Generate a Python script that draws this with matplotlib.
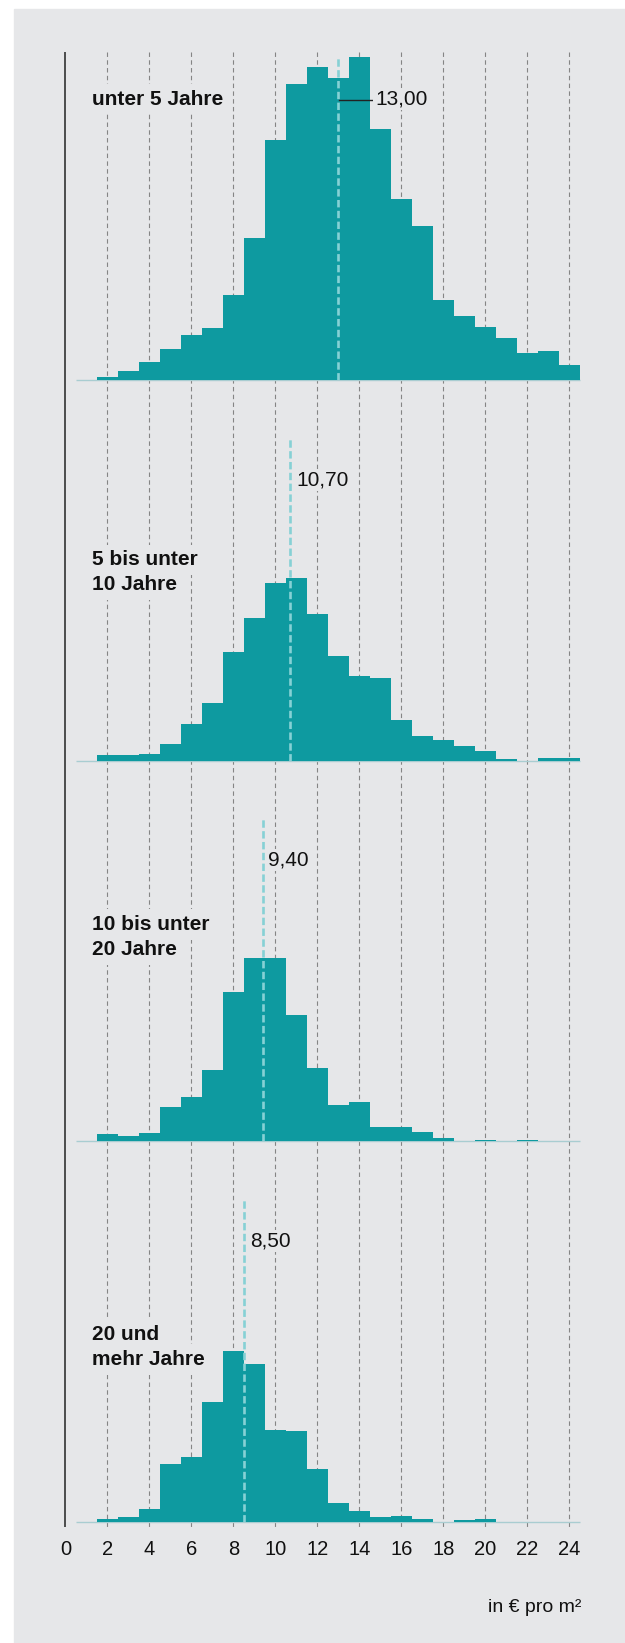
import matplotlib
matplotlib.use("Agg")
import matplotlib.pyplot as plt
import numpy as np
from matplotlib.patches import Rectangle

plt.rcParams['font.family'] = ['Liberation Sans', 'DejaVu Sans']

# ---------------- data ----------------
bin_centers = list(range(1, 25))
groups = ["unter 5 Jahre", "5 bis unter\n10 Jahre", "10 bis unter\n20 Jahre", "20 und\nmehr Jahre"]
counts_u5 = [0, 3, 9, 18, 31, 45, 52, 85, 142, 240, 296, 313, 302, 323, 251, 181, 154, 80, 64, 53, 42, 27, 29, 15]
counts_5_10 = [0, 5.7, 5.7, 6.7, 16.7, 36.7, 57.7, 108.7, 142.7, 178, 182.7, 146.7, 104.7, 84.7, 82.7, 40.7, 24.7, 20.7, 14.7, 9.7, 1.7, 0, 2.7, 2.7]
counts_10_20 = [0, 7, 5, 8, 34, 44, 71, 149, 183, 183, 126, 73, 36, 39, 14, 14, 9, 3, 0, 1, 0, 1, 0, 0]
counts_20p = [0, 2.7, 4.7, 12.7, 57.7, 64.7, 119.7, 170.7, 157.7, 91.7, 90.7, 52.7, 18.7, 10.7, 4.7, 5.7, 2.7, 0, 1.7, 2.7, 0, 0, 0, 0]
series = [counts_u5, counts_5_10, counts_10_20, counts_20p]
medians = [13.0, 10.7, 9.4, 8.5]
x_ticks = list(range(0, 25, 2))
x_label = "in € pro m²"

# ---------------- style / layout ----------------
W, H = 625, 1643
BG = "#e6e7e9"
TEAL = "#0e9aa0"
MED = "#86d1d5"
BASE = "#a9cdd1"
GRID = "#858585"
TXT = "#111111"
X0_PX = 65.4
PX = 21.0
baselines = [380.0, 760.6, 1141.1, 1521.7]
PANEL_H = 380.5
XMAX = 24.5

fig = plt.figure(figsize=(W / 100, H / 100), dpi=100, facecolor="white")
fig.patches.append(Rectangle((14 / W, 0), 1 - 14 / W, 1 - 9 / H,
                             transform=fig.transFigure, color=BG, zorder=-10))

# background axes for grid & axis line (pixel coordinates vertically)
bg = fig.add_axes([0, 0, 1, 1])
bg.set_xlim(-X0_PX / PX, (W - X0_PX) / PX)
bg.set_ylim(H, 0)
bg.set_axis_off()
bg.patch.set_visible(False)
bg.vlines(x_ticks[1:], 52, 1527, colors=GRID, lw=0.8, linestyles=(0, (4, 3)))
bg.vlines(0, 52, 1527, colors="#222222", lw=1.1)

edges = np.arange(0.5, len(bin_centers) + 1, 1.0)
label_centers = [280.7, 188.2, 204.0, 174.7]
med_label_dx = [1.74, 0.28, 0.25, 0.29]
med_leader = [True, False, False, False]

for i, (vals, b) in enumerate(zip(series, baselines)):
    ax = fig.add_axes([X0_PX / W, 1 - b / H, XMAX * PX / W, PANEL_H / H])
    ax.set_xlim(0, XMAX)
    ax.set_ylim(0, PANEL_H)
    ax.patch.set_visible(False)
    for s in ax.spines.values():
        s.set_visible(False)
    ax.set_yticks([])
    ax.hlines(0, edges[0], edges[-1], colors=BASE, lw=1.0, zorder=1, clip_on=False)
    ax.stairs(vals, edges, fill=True, color=TEAL, lw=0, zorder=2)
    m = medians[i]
    ax.vlines(m, 0, 322, colors=MED, lw=1.9, linestyles=(0, (2.8, 1.3)), zorder=3)
    mtxt = f"{m:.2f}".replace(".", ",")
    if med_leader[i]:
        ax.plot([m + 0.05, m + med_label_dx[i] - 0.04], [280, 280], color="#222222", lw=1.0, zorder=4)
    ax.text(m + med_label_dx[i], 281, mtxt, ha="left", va="center", fontsize=15, color=TXT,
            zorder=5, bbox=dict(facecolor=BG, edgecolor="none", pad=1))
    lines = groups[i].split("\n")
    n = len(lines)
    for j, ln in enumerate(lines):
        y = label_centers[i] + (n - 1) / 2 * 25 - j * 25
        ax.text(1.28, y, ln, ha="left", va="center", fontsize=15, fontweight="bold", color=TXT,
                zorder=5, bbox=dict(facecolor=BG, edgecolor="none", pad=4))
    if i == len(series) - 1:
        ax.set_xticks(x_ticks)
        ax.set_xticklabels([str(t) for t in x_ticks])
        ax.tick_params(axis="x", length=0, pad=13, labelsize=14.5, labelcolor=TXT)
    else:
        ax.set_xticks([])

fig.text(581 / W, 1 - 1607 / H, x_label, ha="right", va="center", fontsize=14, color=TXT)

fig.savefig("out.png", dpi=100, facecolor="white")
